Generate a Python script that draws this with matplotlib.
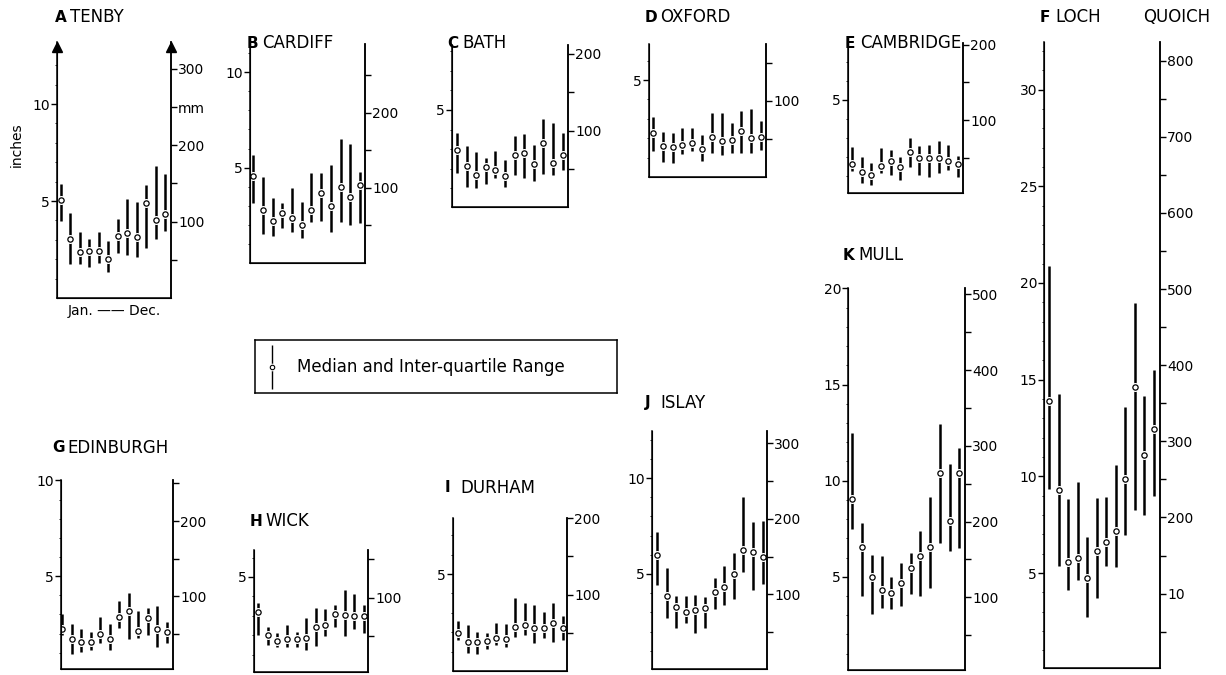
import numpy as np
import matplotlib.pyplot as plt

plt.rcParams['font.family'] = ['DejaVu Sans']

W, H = 1226, 675
MONTHS = list(range(1, 13))

# ---------------------------
# DATA: monthly rainfall, inches (lower quartile, median, upper quartile)
# ---------------------------
tenby_q1 = [3.95, 1.75, 1.75, 1.61, 1.79, 1.36, 2.30, 2.22, 2.10, 2.56, 3.03, 3.47]
tenby_med = [5.05, 3.04, 2.35, 2.40, 2.44, 2.03, 3.20, 3.33, 3.13, 4.91, 4.02, 4.31]
tenby_q3 = [5.90, 4.37, 3.42, 3.04, 3.42, 2.95, 4.06, 5.09, 4.95, 5.84, 6.82, 6.38]

cardiff_q1 = [3.13, 1.52, 1.42, 1.82, 1.64, 1.29, 2.16, 2.21, 1.64, 2.15, 1.99, 2.11]
cardiff_med = [4.56, 2.78, 2.22, 2.64, 2.37, 2.01, 2.78, 3.68, 2.99, 4.00, 3.44, 4.07]
cardiff_q3 = [5.66, 4.52, 3.39, 3.13, 3.93, 3.20, 4.70, 4.73, 5.15, 6.48, 6.24, 4.79]

bath_q1 = [1.75, 1.07, 0.98, 1.20, 1.50, 1.04, 1.65, 1.50, 1.37, 1.70, 1.65, 1.92]
bath_med = [2.95, 2.14, 1.65, 2.09, 1.92, 1.62, 2.68, 2.78, 2.22, 3.29, 2.27, 2.68]
bath_q3 = [3.84, 3.15, 2.86, 2.52, 2.91, 2.44, 3.67, 3.79, 3.21, 4.52, 4.35, 3.84]

oxford_q1 = [1.36, 0.79, 0.71, 1.19, 1.36, 0.84, 1.25, 1.13, 1.25, 1.25, 1.22, 1.39]
oxford_med = [2.25, 1.60, 1.56, 1.65, 1.77, 1.44, 2.08, 1.86, 1.91, 2.39, 1.99, 2.08]
oxford_q3 = [3.08, 2.34, 2.25, 2.51, 2.51, 2.16, 3.28, 3.32, 2.77, 3.40, 3.50, 2.90]

cambridge_q1 = [1.25, 0.64, 0.55, 1.16, 1.07, 0.81, 1.48, 1.04, 0.98, 1.19, 1.34, 0.98]
cambridge_med = [1.63, 1.21, 1.04, 1.54, 1.77, 1.46, 2.26, 1.95, 1.95, 1.95, 1.81, 1.65]
cambridge_q3 = [2.52, 2.03, 1.69, 2.47, 2.38, 2.00, 2.99, 2.59, 2.64, 2.82, 2.64, 2.07]

quoich_q1 = [9.34, 5.38, 4.10, 4.62, 2.71, 3.71, 5.38, 5.33, 6.98, 8.27, 8.01, 8.96]
quoich_med = [13.90, 9.27, 5.57, 5.77, 4.74, 6.12, 6.60, 7.20, 9.86, 14.64, 11.11, 12.45]
quoich_q3 = [20.89, 14.25, 8.84, 9.70, 6.84, 8.87, 8.93, 10.59, 13.57, 18.98, 14.16, 15.50]

edinburgh_q1 = [1.93, 0.94, 1.06, 1.15, 1.49, 1.15, 2.28, 1.70, 1.75, 1.93, 1.32, 1.53]
edinburgh_med = [2.22, 1.70, 1.58, 1.58, 1.96, 1.72, 2.85, 3.19, 2.14, 2.80, 2.26, 2.10]
edinburgh_q3 = [3.02, 2.48, 2.22, 2.10, 2.88, 2.50, 3.71, 4.10, 3.17, 3.32, 3.45, 2.62]

wick_q1 = [2.00, 1.49, 1.40, 1.40, 1.37, 1.23, 1.44, 1.95, 2.40, 1.97, 2.30, 2.09]
wick_med = [3.21, 1.99, 1.71, 1.78, 1.78, 1.87, 2.43, 2.52, 3.07, 3.04, 2.98, 2.98]
wick_q3 = [3.67, 2.40, 2.12, 2.52, 2.17, 2.87, 3.38, 3.33, 3.55, 4.32, 4.10, 3.55]

durham_q1 = [1.59, 0.94, 0.87, 1.16, 1.33, 1.25, 1.76, 1.85, 1.42, 1.68, 1.50, 1.59]
durham_med = [1.97, 1.47, 1.47, 1.54, 1.68, 1.63, 2.28, 2.37, 2.20, 2.20, 2.45, 2.23]
durham_q3 = [2.59, 2.37, 2.02, 1.97, 2.49, 2.42, 3.75, 3.52, 3.40, 3.05, 3.49, 2.85]

islay_q1 = [4.43, 2.69, 2.17, 2.46, 1.91, 2.17, 3.16, 3.39, 3.68, 5.12, 4.17, 4.48]
islay_med = [5.99, 3.87, 3.30, 3.04, 3.13, 3.21, 4.08, 4.34, 4.98, 6.25, 6.13, 5.87]
islay_q3 = [7.20, 5.30, 3.85, 3.85, 3.91, 3.82, 4.78, 5.42, 6.08, 9.03, 7.72, 7.78]

mull_q1 = [7.48, 4.00, 3.05, 3.37, 3.32, 3.49, 4.09, 4.00, 4.41, 6.73, 6.35, 6.49]
mull_med = [9.07, 6.56, 4.99, 4.30, 4.18, 4.65, 5.48, 6.09, 6.56, 10.39, 7.91, 10.39]
mull_q3 = [12.50, 7.82, 6.14, 6.09, 4.99, 5.74, 6.23, 7.39, 9.16, 12.97, 10.89, 11.72]

# ---------------------------
# LAYOUT: pixel box (left, top, right, bottom), y limits in inches, x limits
# ---------------------------
panels = [
    # letter, name, q1, med, q3, box, ylim, xlim, inch ticks, mm labels, title xy
    ("A", "TENBY", tenby_q1, tenby_med, tenby_q3, (57, 42, 171, 298), (0, 13.2), (0.58, 12.63),
     [5, 10], {100: "100", 200: "200", 250: "mm", 300: "300"}, (55, 17)),
    ("B", "CARDIFF", cardiff_q1, cardiff_med, cardiff_q3, (250, 44, 365, 263), (0, 11.48), (0.66, 12.52),
     [5, 10], {100: "100", 200: "200"}, (247, 43)),
    ("C", "BATH", bath_q1, bath_med, bath_q3, (452, 45, 568, 207), (0.03, 8.33), (0.48, 12.56),
     [5], {100: "100", 200: "200"}, (447, 43)),
    ("D", "OXFORD", oxford_q1, oxford_med, oxford_q3, (649, 44, 766, 177), (0, 6.86), (0.59, 12.51),
     [5], {100: "100"}, (645, 17)),
    ("E", "CAMBRIDGE", cambridge_q1, cambridge_med, cambridge_q3, (848, 43, 963, 193), (0.12, 7.97), (0.59, 12.52),
     [5], {100: "100", 200: "200"}, (845, 43)),
    ("F", "LOCH", quoich_q1, quoich_med, quoich_q3, (1044, 42, 1160, 668), (0.09, 32.46), (0.48, 12.63),
     [5, 10, 15, 20, 25, 30], {100: "10", 200: "200", 300: "300", 400: "400", 500: "500",
                               600: "600", 700: "700", 800: "800"}, (1040, 17)),
    ("G", "EDINBURGH", edinburgh_q1, edinburgh_med, edinburgh_q3, (61, 480, 173, 669), (0.15, 10.02), (0.86, 12.63),
     [5, 10], {100: "100", 200: "200"}, (52, 448)),
    ("H", "WICK", wick_q1, wick_med, wick_q3, (254, 550, 368, 672), (0.1, 6.39), (0.55, 12.45),
     [5], {100: "100"}, (250, 521)),
    ("I", "DURHAM", durham_q1, durham_med, durham_q3, (453, 518, 567, 671), (0, 7.89), (0.48, 12.42),
     [5], {100: "100", 200: "200"}, (445, 488)),
    ("J", "ISLAY", islay_q1, islay_med, islay_q3, (652, 431, 767, 669), (0.05, 12.45), (0.48, 12.46),
     [5, 10], {100: "100", 200: "200", 300: "300"}, (645, 403)),
    ("K", "MULL", mull_q1, mull_med, mull_q3, (848, 288, 965, 670), (0.15, 20.02), (0.55, 12.59),
     [5, 10, 15, 20], {100: "100", 200: "200", 300: "300", 400: "400", 500: "500"}, (843, 255)),
]

fig = plt.figure(figsize=(W / 100, H / 100), dpi=100)

for letter, name, q1, med, q3, box, ylim, xlim, lticks, rlabels, txy in panels:
    l, t, r, b = box
    ax = fig.add_axes([l / W, 1 - b / H, (r - l) / W, (b - t) / H])
    ax.vlines(MONTHS, q1, q3, color="k", lw=1.8)
    ax.plot(MONTHS, med, "o", ms=6.5, mfc="white", mec="white", mew=0)
    ax.plot(MONTHS, med, "o", ms=3.8, mfc="white", mec="k", mew=0.9)
    ax.set_xlim(xlim)
    ax.set_ylim(ylim)
    ax.set_xticks([])
    ax.set_yticks(lticks)
    ax.set_yticks(np.arange(1, ylim[1], 1), minor=True)
    ax.tick_params(axis="y", which="major", length=4, width=1, labelsize=10, pad=1)
    ax.tick_params(axis="y", which="minor", length=1.5, width=0.6)
    ax.spines["top"].set_visible(False)
    for s in ["left", "right", "bottom"]:
        ax.spines[s].set_linewidth(1.1)

    ax2 = ax.twinx()
    ax2.set_ylim(ylim[0] * 25.4, ylim[1] * 25.4)
    mm_ticks = np.arange(50, ylim[1] * 25.4 + 0.5, 50)
    ax2.set_yticks(mm_ticks)
    ax2.set_yticklabels([rlabels.get(int(v), "") for v in mm_ticks])
    ax2.tick_params(axis="y", length=4, width=1, labelsize=10, pad=1)
    ax2.spines["top"].set_visible(False)
    ax2.spines["right"].set_linewidth(1.1)

    fig.text(txy[0] / W, 1 - txy[1] / H, letter, fontsize=11, fontweight="bold", va="center")
    fig.text((txy[0] + 15) / W, 1 - txy[1] / H, name, fontsize=12, va="center")

    if letter == "A":
        ax.plot([xlim[0], xlim[1]], [ylim[1] - 0.25] * 2, "^", ms=7, color="k",
                clip_on=False, ls="none")

fig.text(1143 / W, 1 - 17 / H, "QUOICH", fontsize=12, va="center")

# extra text for Tenby
fig.text(17 / W, 1 - 145 / H, "inches", rotation=90, fontsize=10, va="center", ha="center")
fig.text(114 / W, 1 - 311 / H, "Jan. —— Dec.", fontsize=10, va="center", ha="center")

# ---------------------------
# LEGEND BOX
# ---------------------------
lg = fig.add_axes([255 / W, 1 - 393 / H, (617 - 255) / W, (393 - 340) / H])
lg.set_xlim(0, 362)
lg.set_ylim(0, 53)
lg.set_xticks([])
lg.set_yticks([])
for s in lg.spines.values():
    s.set_linewidth(1.1)
lg.vlines(17, 4, 48, color="k", lw=1)
lg.plot(17, 26, "o", ms=5.5, mfc="white", mec="white", mew=0)
lg.plot(17, 26, "o", ms=3.2, mfc="white", mec="k", mew=0.8)
lg.text(42, 26, "Median and Inter-quartile Range", fontsize=12, va="center")

plt.savefig("out.png", dpi=100)
